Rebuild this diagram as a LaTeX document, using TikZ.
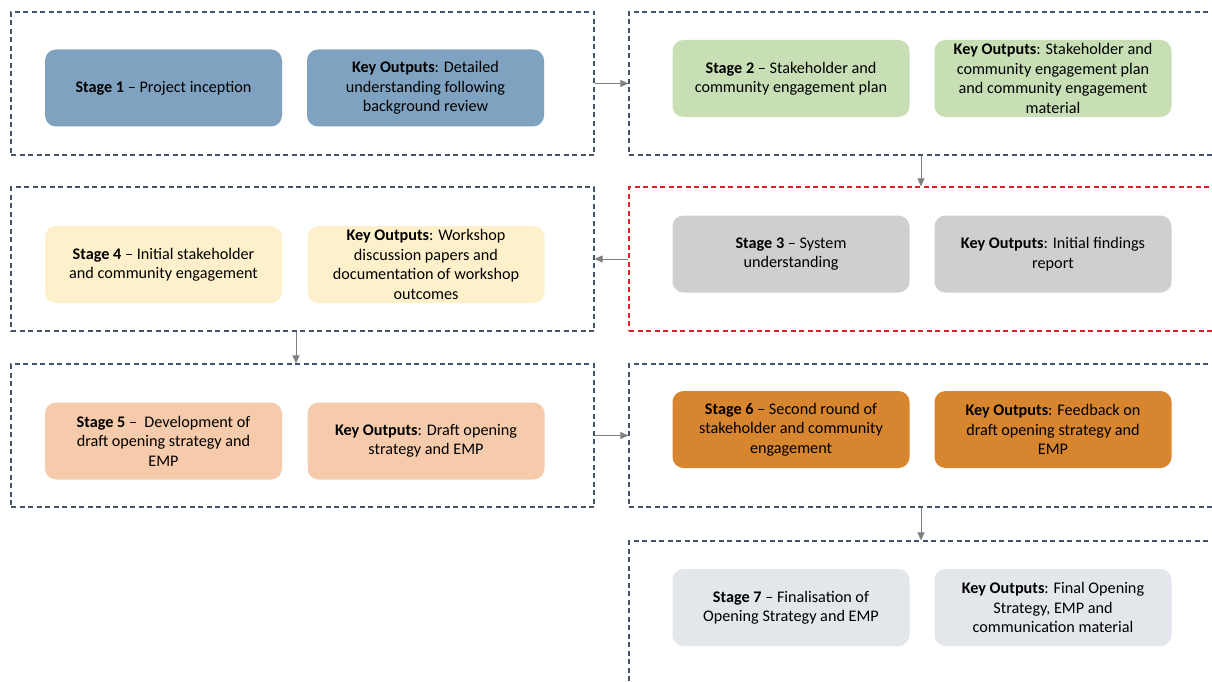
\documentclass[tikz,border=0pt]{standalone}
\usepackage{fontspec}
\setmainfont{Carlito}
\usetikzlibrary{arrows.meta}
\definecolor{frameC}{HTML}{44546A}
\definecolor{redC}{HTML}{E2202A}
\definecolor{arrC}{HTML}{808080}
\definecolor{cA}{HTML}{7FA2C0}
\definecolor{cB}{HTML}{C8DFB6}
\definecolor{cC}{HTML}{D0CFCF}
\definecolor{cD}{HTML}{FEF0CB}
\definecolor{cE}{HTML}{F6CBAC}
\definecolor{cF}{HTML}{D8852F}
\definecolor{cG}{HTML}{E3E6EB}
\tikzset{
  frame/.style={draw=frameC, line width=1.25pt, dash pattern=on 5pt off 3.5pt, minimum width=583pt, minimum height=143pt, inner sep=0pt},
  rframe/.style={frame, minimum width=592pt},
  sbox/.style={rounded corners=11pt, minimum width=237pt, minimum height=77pt, inner sep=2pt, align=center, font=\fontsize{16.2}{19.4}\selectfont, text=black},
  conn/.style={draw=arrC, line width=0.9pt, -{Triangle[length=8pt,width=7pt]}}
}
\begin{document}
\begin{tikzpicture}[x=1pt,y=-1pt]
\useasboundingbox (0,0) rectangle (1212,682);
\clip (0,0) rectangle (1212,682);
\fill[white] (0,0) rectangle (1212,682);
% frames
\node[frame] (F1) at (302.5,83.5) {};
\node[rframe] (F2) at (925,83.5) {};
\node[rframe, minimum height=144pt, draw=redC] (F3) at (925,259) {};
\node[frame, minimum height=144pt] (F4) at (302.5,259) {};
\node[frame] (F5) at (302.5,435.5) {};
\node[rframe] (F6) at (925,435.5) {};
\node[rframe, minimum height=160pt] (F7) at (925,621) {};
% boxes
\node[sbox, fill=cA] (S1) at (163.5,88) {\textbf{Stage 1} – Project inception};
\node[sbox, fill=cA] (K1) at (425.5,88) {\textbf{Key Outputs}: Detailed\\understanding following\\background review};
\node[sbox, fill=cB] (S2) at (791,78.5) {\textbf{Stage 2} – Stakeholder and\\community engagement plan};
\node[sbox, fill=cB] (K2) at (1053,78.5) {\textbf{Key Outputs}: Stakeholder and\\community engagement plan\\and community engagement\\material};
\node[sbox, fill=cC] (S3) at (791,254) {\textbf{Stage 3} – System\\understanding};
\node[sbox, fill=cC] (K3) at (1053,254) {\textbf{Key Outputs}: Initial findings\\report};
\node[sbox, fill=cD] (S4) at (163.5,264.5) {\textbf{Stage 4} – Initial stakeholder\\and community engagement};
\node[sbox, fill=cD] (K4) at (426,264.5) {\textbf{Key Outputs}: Workshop\\discussion papers and\\documentation of workshop\\outcomes};
\node[sbox, fill=cE] (S5) at (163.5,441) {\textbf{Stage 5} –~ Development of\\draft opening strategy and\\EMP};
\node[sbox, fill=cE] (K5) at (426,441) {\textbf{Key Outputs}: Draft opening\\strategy and EMP};
\node[sbox, fill=cF] (S6) at (791,429.5) {\textbf{Stage 6} – Second round of\\stakeholder and community\\engagement};
\node[sbox, fill=cF] (K6) at (1053,429.5) {\textbf{Key Outputs}: Feedback on\\draft opening strategy and\\EMP};
\node[sbox, fill=cG] (S7) at (791,607.5) {\textbf{Stage 7} – Finalisation of\\Opening Strategy and EMP};
\node[sbox, fill=cG] (K7) at (1053,607.5) {\textbf{Key Outputs}: Final Opening\\Strategy, EMP and\\communication material};
% connectors
\draw[conn] (F1.east) -- (F1.east -| F2.west);
\draw[conn] ([xshift=-4pt]F2.south) -- ([xshift=-4pt]F3.north);
\draw[conn] (F3.west) -- (F3.west -| F4.east);
\draw[conn] ([xshift=-6.5pt]F4.south) -- ([xshift=-6.5pt]F5.north);
\draw[conn] (F5.east) -- (F5.east -| F6.west);
\draw[conn] ([xshift=-4pt]F6.south) -- ([xshift=-4pt]F7.north);
\end{tikzpicture}
\end{document}
